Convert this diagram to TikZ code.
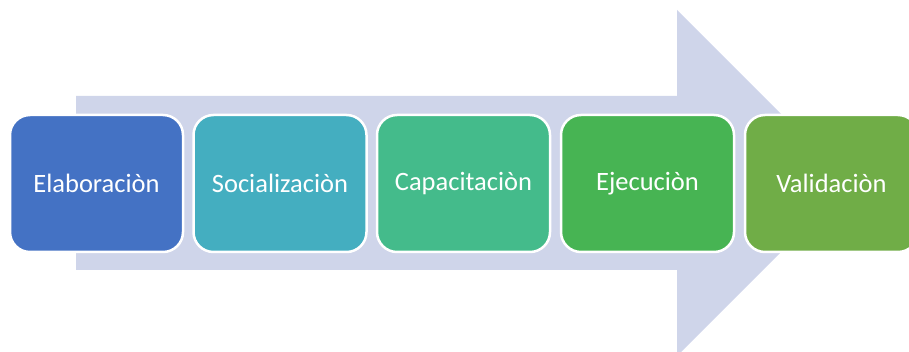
\documentclass[tikz,border=0pt]{standalone}
\usepackage{fontspec}
\setmainfont{Carlito}
\definecolor{arrowc}{HTML}{CFD5EA}
\definecolor{c1}{HTML}{4472C4}
\definecolor{c2}{HTML}{44AEC0}
\definecolor{c3}{HTML}{44BB8B}
\definecolor{c4}{HTML}{47B453}
\definecolor{c5}{HTML}{70AD47}
\begin{document}
\begin{tikzpicture}[x=1pt,y=-1pt,
  stepbox/.style={draw=white, line width=2.5pt, rounded corners=20pt,
    minimum width=173pt, minimum height=137pt, inner sep=0pt,
    text=white, font=\fontsize{26.5}{30}\selectfont}]
\useasboundingbox (0,0) rectangle (909,352);
\clip (0,0) rectangle (909,352);
\fill[arrowc] (76,96) -- (677,96) -- (677,10) -- (850,183) -- (677,356) -- (677,270) -- (76,270) -- cycle;
\node[stepbox, fill=c1] (b1) at (96.5,183.5) {Elaboraciòn};
\node[stepbox, fill=c2] (b2) at (280,183.5) {Socializaciòn};
\node[stepbox, fill=c3] (b3) at (463.5,183.5) {Capacitaciòn};
\node[stepbox, fill=c4] (b4) at (647.5,183.5) {Ejecuciòn};
\node[stepbox, fill=c5] (b5) at (831.5,183.5) {Validaciòn};
\end{tikzpicture}
\end{document}
